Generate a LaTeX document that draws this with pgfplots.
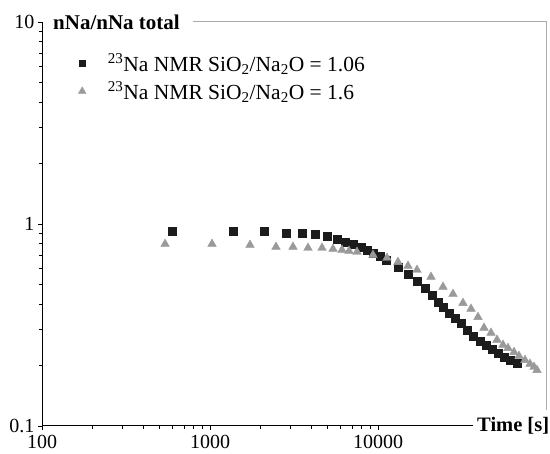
\documentclass[border=0pt]{standalone}
\usepackage{fontspec}
\setmainfont{Liberation Serif}
\usepackage{pgfplots}
\pgfplotsset{compat=1.18}
\definecolor{sqcol}{HTML}{1C1C1C}
\definecolor{tricol}{HTML}{9A9A9A}
\definecolor{framecol}{HTML}{ABABAB}
\begin{document}
\begin{tikzpicture}
\begin{axis}[
  at={(0,0)}, anchor=south west,
  scale only axis, width=504pt, height=404pt,
  clip mode=individual,
  xmode=log, ymode=log,
  xmin=100, xmax=100000, ymin=0.1, ymax=10,
  axis lines*=left,
  axis line style={-, black, line width=1pt},
  xtick={100,1000,10000}, xticklabels={100,1000,10000},
  ytick={0.1,1,10}, yticklabels={0.1,1,10},
  minor tick num=0, minor xtick={}, minor ytick={},
  tick align=outside, major tick length=4pt,
  tick style={black, line width=0.8pt},
  xticklabel style={font=\fontsize{20}{23}\selectfont, yshift=-2pt},
  yticklabel style={font=\fontsize{20}{23}\selectfont},
  legend style={at={(rel axis cs:0.066,0.932)}, anchor=north west, draw=none, fill=none,
    font=\fontsize{21.5}{25}\selectfont, row sep=5pt,
    /tikz/every odd column/.append style={column sep=20pt}},
  legend cell align=left,
]
\addplot[only marks, mark=square*, mark size=4.1pt, mark options={fill=sqcol, draw=sqcol},
  legend image post style={mark size=3.3pt}] coordinates {
(594,0.923) (1371,0.923) (2096,0.923) (2834,0.902) (3528,0.902) (4217,0.892)
(4970,0.872) (5702,0.843) (6363,0.815) (7100,0.796) (7922,0.770) (8600,0.744)
(9337,0.719) (10278,0.695) (11159,0.664) (13152,0.613) (15088,0.566) (17070,0.522)
(19048,0.482) (20963,0.445) (22764,0.411) (24377,0.388) (26470,0.363) (28740,0.342)
(31190,0.324) (33880,0.299) (36780,0.279) (40470,0.264) (43950,0.252) (47700,0.241)
(51800,0.230) (56230,0.2196) (61050,0.212) (67210,0.205)
};
\addlegendentry{\textsuperscript{23}Na NMR SiO\textsubscript{2}/Na\textsubscript{2}O = 1.06}
\addplot[only marks, mark=triangle*, mark size=5pt, mark options={fill=tricol, draw=tricol},
  legend image post style={mark size=4.3pt}] coordinates {
(540,0.796) (1028,0.796) (1730,0.787) (2471,0.770) (3119,0.770) (3831,0.761)
(4642,0.761) (5397,0.752) (6105,0.744) (6721,0.735) (7499,0.727) (9337,0.702)
(11313,0.679) (13152,0.648) (15088,0.620) (17070,0.592) (20680,0.547) (24377,0.488)
(27960,0.450) (32060,0.406) (35780,0.380) (39370,0.346) (42760,0.306) (47060,0.289)
(51090,0.267) (55460,0.252) (59400,0.243) (64490,0.232) (69070,0.222) (74990,0.212)
(80310,0.203) (84840,0.196) (88400,0.189)
};
\addlegendentry{\textsuperscript{23}Na NMR SiO\textsubscript{2}/Na\textsubscript{2}O = 1.6}
\draw[framecol, line width=1pt] (rel axis cs:0.3,1) -- (rel axis cs:1,1) -- (rel axis cs:1,0.04);
\node[anchor=west, inner sep=2pt, font=\fontsize{21}{24}\selectfont\bfseries] at ([xshift=9pt]rel axis cs:0,1) {nNa/nNa total};
\node[anchor=west, inner sep=4pt, fill=white, font=\fontsize{20.5}{24}\selectfont\bfseries] at ([xshift=431pt]rel axis cs:0,0) {Time [s]};
\end{axis}
\pgfresetboundingbox
\path[use as bounding box] (-42pt,-28pt) rectangle (508pt,426pt);
\end{tikzpicture}
\end{document}
